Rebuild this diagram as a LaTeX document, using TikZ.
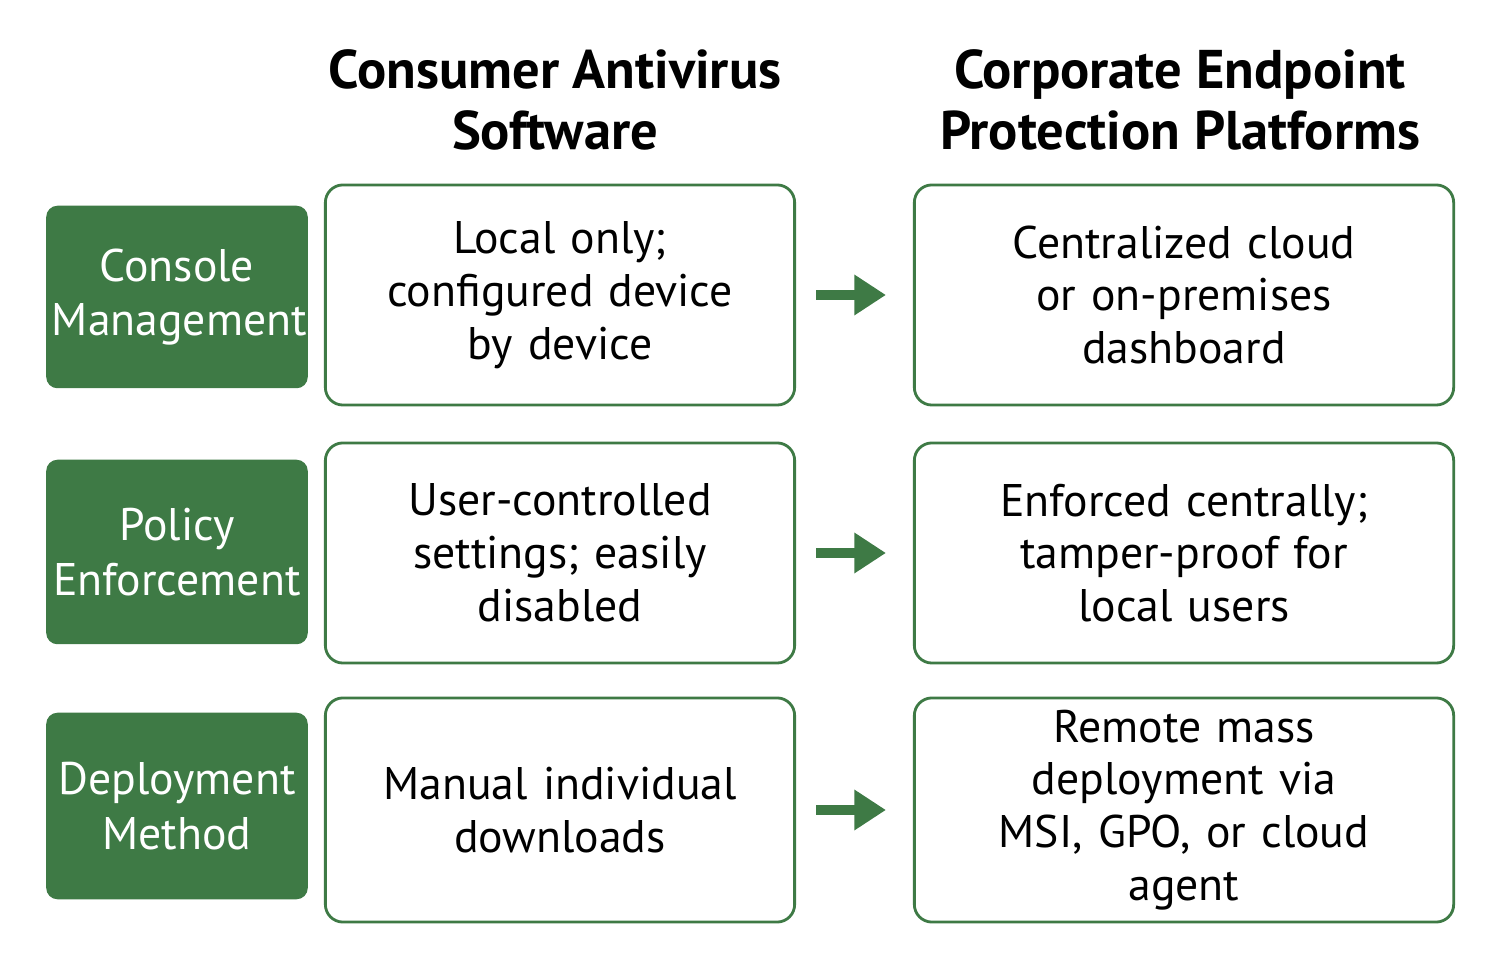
\documentclass[tikz,border=0pt]{standalone}
\usepackage{fontspec}
\setmainfont{PT Sans}
\usetikzlibrary{positioning,arrows.meta}
\definecolor{dgreen}{HTML}{3E7A45}
\begin{document}
\begin{tikzpicture}[x=0.01cm, y=-0.01cm,
  lab/.style = {draw=dgreen, fill=dgreen, rounded corners=3pt, minimum width=2.6cm, text width=2.5cm, inner sep=0pt, text=white, align=center, font=\fontsize{13}{15.5}\selectfont},
  cell/.style = {draw=dgreen, line width=0.8pt, rounded corners=5pt, minimum width=4.69cm, text width=4.4cm, inner sep=0pt, align=center, font=\fontsize{13}{15}\selectfont},
  wcell/.style = {cell, minimum width=5.39cm, text width=5.1cm},
  head/.style = {align=center, font=\fontsize{15.5}{17.5}\selectfont\bfseries},
  arr/.style = {-{Triangle[length=9pt, width=11pt]}, draw=dgreen, line width=3pt}]
\useasboundingbox (0,0) rectangle (1503,974);
\node[head] (h1) at (555,100) {Consumer Antivirus\\Software};
\node[head] (h2) at (1180,100) {Corporate Endpoint\\Protection Platforms};
% rows
\node[lab, minimum height=1.81cm] (l1) at (177,297) {Console\\Management};
\node[lab, minimum height=1.83cm] (l2) at (177,552) {Policy\\Enforcement};
\node[lab, minimum height=1.85cm] (l3) at (177,806) {Deployment\\Method};
\node[cell, minimum height=2.2cm] (c1) at (560,295) {Local only;\\configured device\\by device};
\node[cell, minimum height=2.2cm] (c2) at (560,553) {User-controlled\\settings; easily\\disabled};
\node[cell, minimum height=2.24cm] (c3) at (560,810) {Manual individual\\downloads};
\node[wcell, minimum height=2.2cm] (p1) at (1184,295) {Centralized cloud\\or on-premises\\dashboard};
\node[wcell, minimum height=2.2cm] (p2) at (1184,553) {Enforced centrally;\\tamper-proof for\\local users};
\node[wcell, minimum height=2.24cm] (p3) at (1184,810) {Remote mass\\deployment via\\MSI, GPO, or cloud\\agent};
\foreach \i in {1,2,3}
  \draw[arr, shorten <=0.2cm, shorten >=0.27cm] (c\i.east) -- (p\i.west);
\end{tikzpicture}
\end{document}
